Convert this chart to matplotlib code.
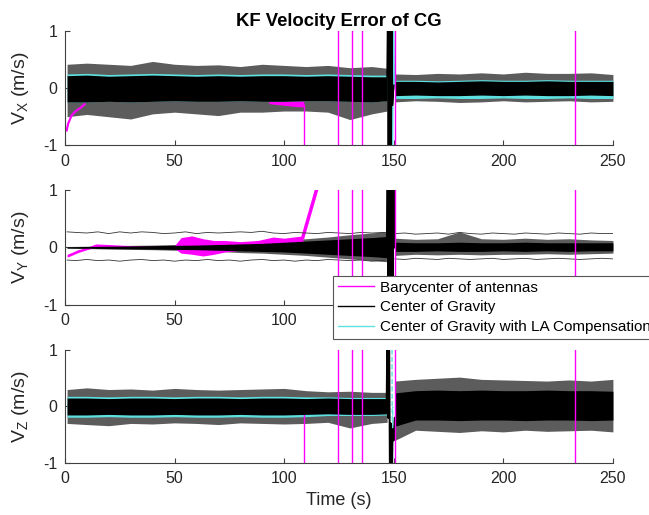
import numpy as np
import matplotlib
matplotlib.use("Agg")
import matplotlib.pyplot as plt
from matplotlib.lines import Line2D

plt.rcParams['font.family'] = ['Liberation Sans', 'DejaVu Sans']
plt.rcParams['mathtext.default'] = 'regular'
plt.rcParams['axes.unicode_minus'] = False

# colours
MAG = '#ff00ff'
CYA = '#5ee0e0'
FRINGE = '#5c5c5c'

# ---- data ----
# noise envelopes, knots before / after the manoeuvre at ~148 s
t_pre = [1, 10, 20, 30, 40, 50, 60, 70, 80, 90, 100, 110, 120, 130, 140, 147]
t_post = [150.5, 160, 170, 180, 190, 200, 210, 220, 230, 240, 250]

# V_X
vx_core_hi_pre = [0.22, 0.23, 0.21, 0.22, 0.23, 0.22, 0.21, 0.22, 0.21, 0.22, 0.22, 0.21, 0.22, 0.21, 0.20, 0.20]
vx_core_lo_pre = [-0.24, -0.24, -0.23, -0.24, -0.23, -0.22, -0.23, -0.23, -0.22, -0.23, -0.23, -0.22, -0.22, -0.23, -0.24, -0.22]
vx_peak_hi_pre = [0.42, 0.44, 0.42, 0.40, 0.47, 0.42, 0.40, 0.41, 0.38, 0.42, 0.40, 0.38, 0.40, 0.36, 0.38, 0.35]
vx_peak_lo_pre = [-0.50, -0.46, -0.50, -0.54, -0.45, -0.42, -0.45, -0.48, -0.42, -0.42, -0.40, -0.40, -0.42, -0.55, -0.45, -0.40]
vx_cyan_hi_pre = [0.25, 0.26, 0.24, 0.25, 0.26, 0.25, 0.24, 0.25, 0.24, 0.25, 0.25, 0.24, 0.25, 0.24, 0.23, 0.23]
vx_cyan_lo_pre = [-0.24, -0.24, -0.23, -0.24, -0.23, -0.22, -0.23, -0.23, -0.22, -0.23, -0.23, -0.22, -0.22, -0.23, -0.24, -0.22]
vx_core_hi_post = [0.12, 0.12, 0.11, 0.12, 0.13, 0.12, 0.12, 0.13, 0.12, 0.12, 0.12]
vx_core_lo_post = [-0.13, -0.12, -0.13, -0.13, -0.12, -0.13, -0.12, -0.13, -0.13, -0.12, -0.13]
vx_peak_hi_post = [0.25, 0.24, 0.26, 0.25, 0.27, 0.25, 0.28, 0.26, 0.26, 0.27, 0.24]
vx_peak_lo_post = [-0.24, -0.22, -0.23, -0.25, -0.24, -0.22, -0.24, -0.23, -0.22, -0.24, -0.23]
vx_cyan_hi_post = [0.14, 0.14, 0.13, 0.14, 0.15, 0.14, 0.14, 0.15, 0.14, 0.14, 0.14]
vx_cyan_lo_post = [-0.18, -0.18, -0.17, -0.18, -0.18, -0.17, -0.18, -0.18, -0.17, -0.18, -0.18]
vx_tr_t = [147.0, 147.3, 147.6, 147.9, 148.2, 148.5, 148.8, 149.1, 149.4, 150.0]
vx_tr_v = [0.2, 1.4, -1.4, 1.4, -1.4, 1.4, -1.4, 1.4, -0.3, 0.05]
vx_cyan_tr_t = [148.6, 149.0, 149.4, 149.8, 150.3]
vx_cyan_tr_v = [0.2, 1.4, -1.4, 1.4, 0.0]
vx_bary_t = [0.8, 1.5, 3, 5, 7.6, 9]
vx_bary_v = [-0.74, -0.62, -0.48, -0.40, -0.33, -0.28]
vx_bary_late_t = [93, 100, 105, 109]
vx_bary_late_lo = [-0.27, -0.30, -0.32, -0.33]
vx_bary_late_hi = [0.10, 0.10, 0.10, 0.10]
vx_bary_div = [-0.3, -1.5]

# V_Y
vy_core_hi_pre = [0.01, 0.015, 0.02, 0.025, 0.03, 0.035, 0.04, 0.05, 0.06, 0.07, 0.09, 0.11, 0.13, 0.15, 0.17, 0.19]
vy_core_lo_pre = [-0.01, -0.015, -0.02, -0.025, -0.03, -0.035, -0.04, -0.05, -0.06, -0.07, -0.08, -0.10, -0.12, -0.14, -0.16, -0.18]
vy_peak_hi_pre = [0.015, 0.02, 0.03, 0.035, 0.04, 0.05, 0.06, 0.07, 0.09, 0.11, 0.13, 0.15, 0.18, 0.22, 0.25, 0.28]
vy_peak_lo_pre = [-0.015, -0.02, -0.03, -0.035, -0.04, -0.05, -0.06, -0.07, -0.09, -0.10, -0.12, -0.14, -0.17, -0.20, -0.23, -0.25]
vy_core_hi_post = [0.09, 0.08, 0.08, 0.09, 0.08, 0.08, 0.09, 0.08, 0.08, 0.08, 0.08]
vy_core_lo_post = [-0.07, -0.07, -0.06, -0.07, -0.07, -0.06, -0.07, -0.06, -0.07, -0.06, -0.06]
vy_peak_hi_post = [0.16, 0.14, 0.15, 0.27, 0.15, 0.14, 0.16, 0.14, 0.15, 0.13, 0.12]
vy_peak_lo_post = [-0.14, -0.12, -0.13, -0.12, -0.13, -0.12, -0.12, -0.11, -0.12, -0.11, -0.10]
vy_tr_t = [147.0, 147.3, 147.6, 147.9, 148.2, 148.5, 148.8, 149.1, 149.4, 149.8, 150.3]
vy_tr_v = [0.2, 1.4, -1.4, 1.4, -1.4, 1.4, -1.4, 1.4, -1.4, 1.4, 0.0]
vy_bound_t_pre = [1, 5, 10, 15, 20, 25, 30, 35, 40, 45, 50, 55, 60, 65, 70, 75,
                  80, 85, 90, 95, 100, 105, 110, 115, 120, 125, 130, 135, 140, 146]
vy_bound_hi_pre = [0.27, 0.26, 0.25, 0.27, 0.24, 0.27, 0.25, 0.27, 0.26, 0.24, 0.25, 0.27, 0.24, 0.26, 0.25,
                   0.26, 0.27, 0.26, 0.28, 0.25, 0.24, 0.26, 0.25, 0.24, 0.26, 0.25, 0.24, 0.26, 0.25, 0.26]
vy_bound_lo_pre = [-0.22, -0.23, -0.21, -0.23, -0.22, -0.24, -0.22, -0.21, -0.23, -0.22, -0.24, -0.22, -0.23, -0.21, -0.23,
                   -0.22, -0.24, -0.22, -0.21, -0.23, -0.22, -0.24, -0.22, -0.23, -0.21, -0.22, -0.23, -0.22, -0.24, -0.22]
vy_bound_t_post = [150.5, 155, 160, 165, 170, 175, 180, 185, 190, 195, 200,
                   205, 210, 215, 220, 225, 230, 235, 240, 245, 250]
vy_bound_hi_post = [0.24, 0.25, 0.23, 0.24, 0.25, 0.23, 0.26, 0.24, 0.23, 0.25, 0.24,
                    0.23, 0.25, 0.24, 0.23, 0.25, 0.24, 0.23, 0.25, 0.24, 0.24]
vy_bound_lo_post = [-0.20, -0.21, -0.19, -0.20, -0.21, -0.19, -0.20, -0.21, -0.20, -0.19, -0.21,
                    -0.20, -0.19, -0.21, -0.20, -0.19, -0.20, -0.21, -0.20, -0.19, -0.20]
vy_bary_t = [1, 3, 6, 10, 14, 20, 30, 40, 50, 53, 58, 63, 68, 73, 80, 88, 95, 100, 108.6]
vy_bary_hi = [-0.12, -0.09, -0.04, 0.0, 0.06, 0.05, 0.03, 0.02, 0.03, 0.17, 0.20, 0.15, 0.12, 0.12, 0.10, 0.12, 0.18, 0.16, 0.20]
vy_bary_lo = [-0.17, -0.14, -0.09, -0.04, 0.0, 0.0, -0.02, -0.02, -0.02, -0.10, -0.12, -0.15, -0.12, -0.08, -0.05, -0.05, -0.03, -0.02, 0.0]
vy_bary_ramp_t = [108.6, 114.8]
vy_bary_ramp_v = [0.18, 1.0]

# V_Z
vz_core_hi_pre = [0.15, 0.15, 0.14, 0.15, 0.15, 0.14, 0.15, 0.15, 0.14, 0.15, 0.15, 0.14, 0.15, 0.14, 0.14, 0.14]
vz_core_lo_pre = [-0.15, -0.15, -0.14, -0.15, -0.15, -0.14, -0.15, -0.15, -0.14, -0.15, -0.15, -0.14, -0.13, -0.14, -0.14, -0.13]
vz_peak_hi_pre = [0.30, 0.33, 0.30, 0.31, 0.29, 0.32, 0.30, 0.29, 0.30, 0.31, 0.32, 0.28, 0.26, 0.27, 0.25, 0.25]
vz_peak_lo_pre = [-0.30, -0.32, -0.34, -0.30, -0.31, -0.29, -0.30, -0.32, -0.29, -0.30, -0.31, -0.30, -0.28, -0.38, -0.30, -0.28]
vz_cyan_hi_pre = [0.18, 0.18, 0.17, 0.18, 0.18, 0.17, 0.18, 0.18, 0.17, 0.18, 0.18, 0.17, 0.17, 0.16, 0.16, 0.16]
vz_cyan_lo_pre = [-0.19, -0.19, -0.18, -0.19, -0.19, -0.18, -0.19, -0.19, -0.18, -0.19, -0.19, -0.18, -0.16, -0.16, -0.16, -0.15]
vz_core_hi_post = [0.24, 0.28, 0.29, 0.28, 0.29, 0.28, 0.28, 0.29, 0.28, 0.28, 0.27]
vz_core_lo_post = [-0.35, -0.24, -0.24, -0.25, -0.24, -0.24, -0.25, -0.24, -0.24, -0.25, -0.24]
vz_peak_hi_post = [0.45, 0.48, 0.50, 0.52, 0.48, 0.47, 0.46, 0.45, 0.47, 0.45, 0.48]
vz_peak_lo_post = [-0.60, -0.42, -0.44, -0.46, -0.43, -0.45, -0.42, -0.44, -0.43, -0.42, -0.45]
vz_tr_t = [146.8, 147.1, 147.5, 147.9, 148.3, 148.7, 149.1, 149.5, 150.0, 150.5]
vz_tr_v = [0.1, 1.4, -0.2, 1.4, -1.4, -0.3, -1.4, -0.4, -0.6, -0.2]
vz_cyan_tr_t = [149.2, 149.4, 149.6]
vz_cyan_tr_v = [1.4, -1.4, 0.0]

# barycenter runs away at ~109 s and only crosses the window afterwards
bary_div_t = 109.2
bary_cross_t = [124.7, 131.2, 135.5, 150.5, 232.8]
vz_bary_div = [-0.1, -1.5]

tick_x = [0, 50, 100, 150, 200, 250]


def band(ax, t, lo, hi, color, z):
    ax.fill_between(t, lo, hi, color=color, lw=0, zorder=z)


def style(ax, ylab):
    ax.set_xlim(0, 250)
    ax.set_ylim(-1, 1)
    ax.set_xticks(tick_x)
    ax.set_yticks([-1, 0, 1])
    ax.set_yticklabels(['-1', '0', '1'])
    for s in ['top', 'right']:
        ax.spines[s].set_visible(False)
    for s in ['left', 'bottom']:
        ax.spines[s].set_color('#404040')
        ax.spines[s].set_linewidth(0.8)
    ax.tick_params(direction='in', length=3.5, width=0.8, color='#404040',
                   labelsize=11.5, labelcolor='#262626')
    ax.tick_params(axis='x', pad=6)
    ax.tick_params(axis='y', pad=5.5)
    ax.set_ylabel(ylab, fontsize=14, color='#262626')
    ax.yaxis.set_label_coords(-0.061, 0.5)


fig = plt.figure(figsize=(6.49, 5.15), dpi=100)
ax1 = fig.add_axes([0.100, 0.718, 0.8444, 0.2214])
ax2 = fig.add_axes([0.100, 0.408, 0.8444, 0.2233])
ax3 = fig.add_axes([0.100, 0.101, 0.8444, 0.2194])

# ---- V_X ----
ax = ax1
band(ax, t_pre, vx_peak_lo_pre, vx_peak_hi_pre, FRINGE, 1)
band(ax, t_post, vx_peak_lo_post, vx_peak_hi_post, FRINGE, 1)
band(ax, vx_bary_late_t, vx_bary_late_lo, vx_bary_late_hi, MAG, 1.5)
band(ax, t_pre, vx_cyan_lo_pre, vx_cyan_hi_pre, CYA, 2)
band(ax, t_post, vx_cyan_lo_post, vx_cyan_hi_post, CYA, 2)
band(ax, t_pre, vx_core_lo_pre, vx_core_hi_pre, 'black', 3)
band(ax, t_post, vx_core_lo_post, vx_core_hi_post, 'black', 3)
ax.plot(vx_bary_t, vx_bary_v, color=MAG, lw=1.6, zorder=2.5)
ax.plot([bary_div_t, bary_div_t], vx_bary_div, color=MAG, lw=1, zorder=2.5)
ax.vlines(bary_cross_t, -1.5, 1.5, color=MAG, lw=1, zorder=4)
ax.plot(vx_cyan_tr_t, vx_cyan_tr_v, color=CYA, lw=1.2, zorder=3.5)
ax.plot(vx_tr_t, vx_tr_v, color='black', lw=1.2, zorder=3.6)
style(ax, '$V_X$ (m/s)')
ax.set_title('KF Velocity Error of CG', fontsize=13.3, fontweight='bold', pad=4)

# ---- V_Y ----
ax = ax2
band(ax, vy_bary_t, vy_bary_lo, vy_bary_hi, MAG, 2.5)
ax.plot(vy_bary_ramp_t, vy_bary_ramp_v, color=MAG, lw=2.5, zorder=2.5)
band(ax, t_pre, vy_peak_lo_pre, vy_peak_hi_pre, FRINGE, 2)
band(ax, t_post, vy_peak_lo_post, vy_peak_hi_post, FRINGE, 2)
band(ax, t_pre, vy_core_lo_pre, vy_core_hi_pre, 'black', 3)
band(ax, t_post, vy_core_lo_post, vy_core_hi_post, 'black', 3)
ax.plot(vy_bound_t_pre, vy_bound_hi_pre, color='#333333', lw=0.6, zorder=3)
ax.plot(vy_bound_t_pre, vy_bound_lo_pre, color='#333333', lw=0.6, zorder=3)
ax.plot(vy_bound_t_post, vy_bound_hi_post, color='#333333', lw=0.6, zorder=3)
ax.plot(vy_bound_t_post, vy_bound_lo_post, color='#333333', lw=0.6, zorder=3)
ax.vlines(bary_cross_t, -1.5, 1.5, color=MAG, lw=1, zorder=4)
ax.plot(vy_tr_t, vy_tr_v, color='black', lw=1.6, zorder=3.6)
style(ax, '$V_Y$ (m/s)')

handles = [Line2D([], [], color=MAG, lw=1),
           Line2D([], [], color='black', lw=1),
           Line2D([], [], color=CYA, lw=1)]
labels = ['Barycenter of antennas', 'Center of Gravity',
          'Center of Gravity with LA Compensation']
leg = ax.legend(handles, labels, loc='upper left',
                bbox_to_anchor=(333 / 649, 1 - 276 / 515),
                bbox_transform=fig.transFigure, borderaxespad=0,
                fontsize=11, frameon=True, fancybox=False, framealpha=1,
                edgecolor='#555555', borderpad=0.3, handlelength=2.4,
                handletextpad=0.35, labelspacing=0.38)
leg.get_frame().set_linewidth(0.8)
leg.set_zorder(10)

# ---- V_Z ----
ax = ax3
band(ax, t_pre, vz_peak_lo_pre, vz_peak_hi_pre, FRINGE, 1)
band(ax, t_post, vz_peak_lo_post, vz_peak_hi_post, FRINGE, 1)
band(ax, t_pre, vz_cyan_lo_pre, vz_cyan_hi_pre, CYA, 2)
band(ax, t_pre, vz_core_lo_pre, vz_core_hi_pre, 'black', 3)
band(ax, t_post, vz_core_lo_post, vz_core_hi_post, 'black', 3)
ax.plot([bary_div_t, bary_div_t], vz_bary_div, color=MAG, lw=1, zorder=2.5)
ax.vlines(bary_cross_t, -1.5, 1.5, color=MAG, lw=1, zorder=4)
ax.plot(vz_cyan_tr_t, vz_cyan_tr_v, color=CYA, lw=1, ls='--', zorder=3.5)
ax.plot(vz_tr_t, vz_tr_v, color='black', lw=1.4, zorder=3.6)
style(ax, '$V_Z$ (m/s)')
ax.set_xlabel('Time (s)', fontsize=13, color='#262626', labelpad=4)

fig.savefig('out.png', dpi=100)
